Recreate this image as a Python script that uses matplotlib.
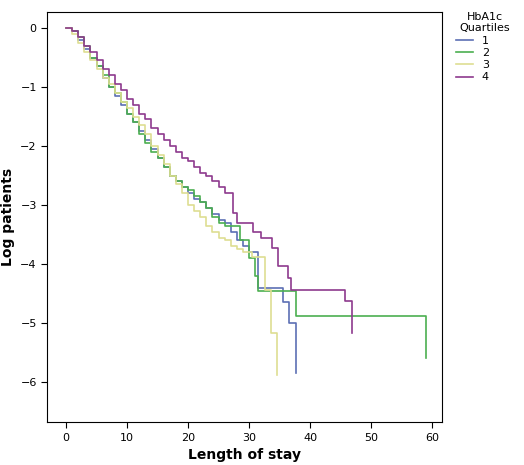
import matplotlib
matplotlib.use("Agg")
import matplotlib.pyplot as plt

labels = ["1", "2", "3", "4"]
colors = ["#5c6fb4", "#4caf50", "#dede92", "#8e3a8e"]

t1 = [0,1,2,3,4,5,6,7,8,9,10,11,12,13,14,15,16,17,18,19,20,21,22,23,24,25,26,27,28,29,30,31.5,35.6,36.6,37.7]
y1 = [0,-0.05,-0.2,-0.35,-0.5,-0.65,-0.85,-1.0,-1.15,-1.3,-1.45,-1.6,-1.75,-1.9,-2.05,-2.2,-2.35,-2.5,-2.6,-2.7,-2.8,-2.9,-2.95,-3.05,-3.15,-3.25,-3.3,-3.45,-3.6,-3.7,-3.8,-4.4,-4.65,-5.0,-5.85]

t2 = [0,1,2,3,4,5,6,7,8,9,10,11,12,13,14,15,16,17,18,19,20,21,22,23,24,25,26,28.5,30,31,31.5,37.7,59]
y2 = [0,-0.05,-0.15,-0.3,-0.5,-0.65,-0.8,-1.0,-1.1,-1.25,-1.45,-1.6,-1.8,-1.95,-2.1,-2.2,-2.35,-2.5,-2.6,-2.7,-2.75,-2.85,-2.95,-3.05,-3.2,-3.3,-3.35,-3.6,-3.9,-4.2,-4.45,-4.88,-5.59]

t3 = [0,1,2,3,4,5,6,7,8,9,10,11,12,13,14,15,16,17,18,19,20,21,22,23,24,25,26,27,28,29,30.5,32.6,33.6,34.6]
y3 = [0,-0.1,-0.25,-0.4,-0.55,-0.7,-0.85,-0.95,-1.1,-1.25,-1.35,-1.5,-1.65,-1.8,-2.0,-2.15,-2.3,-2.5,-2.65,-2.8,-3.0,-3.1,-3.2,-3.35,-3.45,-3.55,-3.6,-3.7,-3.75,-3.8,-3.88,-4.44,-5.17,-5.88]

t4 = [0,1,2,3,4,5,6,7,8,9,10,11,12,13,14,15,16,17,18,19,20,21,22,23,24,25,26,27.4,28,30.7,32,33.7,34.7,36.4,36.9,45.7,46.9]
y4 = [0,-0.05,-0.15,-0.3,-0.4,-0.55,-0.7,-0.8,-0.95,-1.05,-1.2,-1.3,-1.45,-1.55,-1.7,-1.8,-1.9,-2.0,-2.1,-2.2,-2.25,-2.35,-2.45,-2.5,-2.6,-2.7,-2.8,-3.13,-3.3,-3.45,-3.55,-3.73,-4.03,-4.24,-4.44,-4.63,-5.17]

series = [(t1, y1), (t2, y2), (t3, y3), (t4, y4)]

fig = plt.figure(figsize=(5.24, 4.65), dpi=100)
ax = fig.add_axes([0.09, 0.092, 0.753, 0.882])
for (t, y), c, lab in zip(series, colors, labels):
    # steps: value y[i] holds from t[i] to t[i+1]; last point is vertical drop at end
    xs = t[:-1] + [t[-1], t[-1]]
    ys = y[:-1] + [y[-2], y[-1]]
    ax.step(xs, ys, where="post", color=c, lw=1.2, label=lab)

ax.set_xlim(-3.1, 61.6)
ax.set_ylim(-6.68, 0.27)
ax.set_xticks([0, 10, 20, 30, 40, 50, 60])
ax.set_yticks([0, -1, -2, -3, -4, -5, -6])
ax.tick_params(labelsize=8, direction="out", length=4)
ax.set_xlabel("Length of stay", fontsize=10, fontweight="bold")
ax.set_ylabel("Log patients", fontsize=10, fontweight="bold")

fig.text(0.925, 0.975, "HbA1c\nQuartiles", ha="center", va="top", fontsize=8)
fig.legend(loc="upper left", bbox_to_anchor=(0.86, 0.935), frameon=False,
           fontsize=8, handlelength=1.5, labelspacing=0.2, borderpad=0)
fig.savefig("out.png", dpi=100)
